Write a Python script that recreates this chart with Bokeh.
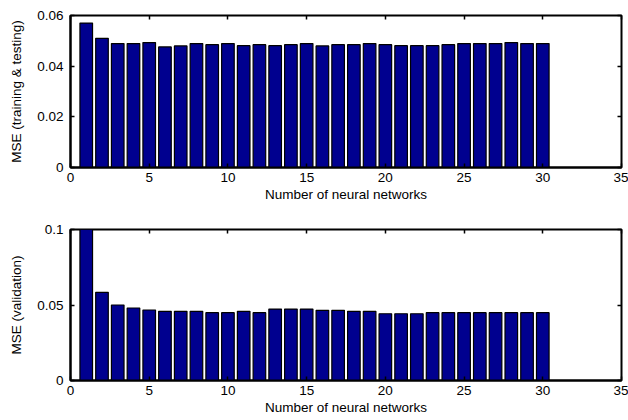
from bokeh.plotting import figure
from bokeh.layouts import column
from bokeh.models import LinearAxis, CustomJSTickFormatter, FixedTicker, Range1d
from bokeh.embed import file_html
from bokeh.resources import INLINE

networks = list(range(1, 31))
mse_train_test = [0.057, 0.051, 0.0489, 0.0489, 0.0493, 0.0476, 0.048, 0.0489, 0.0485, 0.0489,
                  0.0481, 0.0485, 0.0481, 0.0485, 0.0489, 0.048, 0.0485, 0.0485, 0.0489, 0.0485,
                  0.0481, 0.0481, 0.0481, 0.0485, 0.0489, 0.0489, 0.0489, 0.0493, 0.0489, 0.0489]
mse_validation = [0.1, 0.0584, 0.05, 0.048, 0.0467, 0.0458, 0.0458, 0.0458, 0.0449, 0.0449,
                  0.0458, 0.0449, 0.0473, 0.0473, 0.0473, 0.0465, 0.0465, 0.0458, 0.0458, 0.0442,
                  0.0442, 0.0442, 0.0449, 0.0449, 0.0449, 0.0449, 0.0449, 0.0449, 0.0449, 0.0449]
x_ticks = [0, 5, 10, 15, 20, 25, 30, 35]
y_ticks_top = [0, 0.02, 0.04, 0.06]
y_ticks_bottom = [0, 0.05, 0.1]

FONT = "Liberation Sans"
FS = "13.5px"
num_fmt = "return String(Math.round(tick*1000)/1000);"


def make(values, ymax, yticks, ylabel, frame_h, bt, bb):
    p = figure(frame_width=551, frame_height=frame_h, output_backend="svg", toolbar_location=None,
               x_range=Range1d(0, 35), y_range=Range1d(0, ymax),
               min_border_left=70, min_border_right=7, min_border_top=bt, min_border_bottom=bb)
    p.xgrid.visible = False
    p.ygrid.visible = False
    p.outline_line_color = "black"
    p.outline_line_width = 2
    p.outline_line_alpha = 1
    p.vbar(x=networks, top=values, width=0.8, bottom=0,
           fill_color="#00008F", line_color="black", line_width=1.2)
    for ax in (p.xaxis[0], p.yaxis[0]):
        ax.major_tick_in = 4
        ax.major_tick_out = 0
        ax.minor_tick_line_color = None
        ax.axis_line_width = 2
        ax.axis_line_color = "black"
        ax.major_tick_line_width = 1.5
        ax.major_tick_line_color = "black"
        ax.major_label_text_font = FONT
        ax.major_label_text_font_size = FS
        ax.major_label_text_color = "black"
        ax.axis_label_text_font = FONT
        ax.axis_label_text_font_size = FS
        ax.axis_label_text_color = "black"
        ax.axis_label_text_font_style = "normal"
    p.xaxis[0].major_label_standoff = 5
    p.xaxis[0].axis_label_standoff = 2
    p.yaxis[0].major_label_standoff = 7
    p.yaxis[0].axis_label_standoff = 10
    p.xaxis[0].ticker = FixedTicker(ticks=x_ticks)
    p.yaxis[0].ticker = FixedTicker(ticks=yticks)
    p.yaxis[0].formatter = CustomJSTickFormatter(code=num_fmt)
    p.xaxis[0].axis_label = "Number of neural networks"
    p.yaxis[0].axis_label = ylabel
    # box ticks on top and right
    top = LinearAxis(ticker=FixedTicker(ticks=x_ticks), formatter=CustomJSTickFormatter(code="return '';"),
                     major_tick_in=4, major_tick_out=0, axis_line_color=None,
                     minor_tick_line_color=None, major_tick_line_width=1.5, major_label_standoff=0,
                     major_label_text_font_size="0px")
    right = LinearAxis(ticker=FixedTicker(ticks=yticks), formatter=CustomJSTickFormatter(code="return '';"),
                       major_tick_in=4, major_tick_out=0, axis_line_color=None,
                       minor_tick_line_color=None, major_tick_line_width=1.5, major_label_standoff=0,
                       major_label_text_font_size="0px")
    p.add_layout(top, "above")
    p.add_layout(right, "right")
    return p


p1 = make(mse_train_test, 0.06, y_ticks_top, "MSE (training & testing)", 152, 15, 41)
p2 = make(mse_validation, 0.1, y_ticks_bottom, "MSE (validation)", 151, 21, 32)

layout = column(p1, p2, spacing=0)
open("out.html", "w").write(file_html(layout, INLINE))
